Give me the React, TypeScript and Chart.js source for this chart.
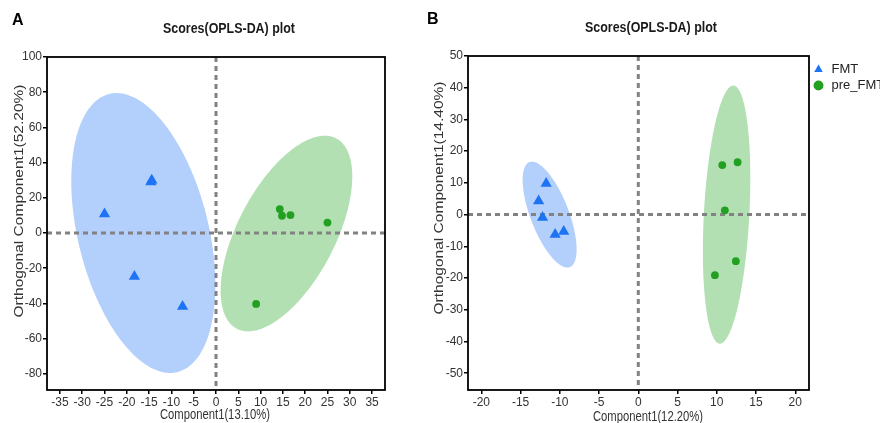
import React, { useEffect, useRef } from 'react';
import { Chart, registerables } from 'chart.js';

Chart.register(...registerables);

const FONT = '"Liberation Sans", Arial, sans-serif';

const groupNames = ['FMT', 'pre_FMT'];

// ---------- Panel A ----------
const aFmtX = [-25.0, -14.4, -14.6, -18.3, -7.5];
const aFmtY = [10.8, 30.0, 29.0, -24.7, -41.7];
const aPreX = [14.3, 14.8, 16.7, 25.0, 9.0];
const aPreY = [13.6, 9.8, 10.2, 5.9, -40.3];
// ellipse: centerX, centerY, axis1X, axis1Y, axis2X, axis2Y (data units)
const aFmtEllipse = [-16.3, 0, -6.0, 79.5, 15.0, 0];
const aPreEllipse = [15.8, -0.3, 8.6, 55.6, 12.0, 0];
const aXTicks = [-35, -30, -25, -20, -15, -10, -5, 0, 5, 10, 15, 20, 25, 30, 35];
const aYTicks = [-80, -60, -40, -20, 0, 20, 40, 60, 80, 100];
const aXRange = [-37.9, 37.9];
const aYRange = [-89.2, 100];

// ---------- Panel B ----------
const bFmtX = [-11.74, -12.7, -12.2, -10.6, -9.5];
const bFmtY = [9.8, 4.3, -0.9, -6.3, -5.3];
const bPreX = [10.7, 12.65, 11.03, 12.43, 9.76];
const bPreY = [15.6, 16.5, 1.35, -14.7, -19.1];
const bFmtEllipse = [-11.3, 0, -2.25, 16.7, 2.6, 0];
const bPreEllipse = [11.25, 0, 0.85, 40.7, 2.9, 0];
const bXTicks = [-20, -15, -10, -5, 0, 5, 10, 15, 20];
const bYTicks = [-50, -40, -30, -20, -10, 0, 10, 20, 30, 40, 50];
const bXRange = [-21.7, 21.75];
const bYRange = [-55.3, 50];

const COLORS = {
  fmtPoint: 'rgb(30,115,245)',
  prePoint: 'rgb(34,160,34)',
  fmtFill: 'rgb(179,207,251)',
  preFill: 'rgb(179,224,179)',
};

type Spec = {
  letter: string;
  title: string;
  xTitle: string;
  yTitle: string;
  fmtX: number[]; fmtY: number[]; preX: number[]; preY: number[];
  fmtEllipse: number[]; preEllipse: number[];
  xTicks: number[]; yTicks: number[]; xRange: number[]; yRange: number[];
  canvasLeft: number; canvasWidth: number;
  padTop: number; padRight: number; yWidth: number; xHeight: number;
  legend: boolean;
  letterPos: number[]; titlePos: number[]; titleW: number;
  xTitlePos: number[]; xTitleW: number; yTitlePos: number[]; yTitleW: number;
};

const specA: Spec = {
  letter: 'A', title: 'Scores(OPLS-DA) plot',
  xTitle: 'Component1(13.10%)', yTitle: 'Orthogonal Component1(52.20%)',
  fmtX: aFmtX, fmtY: aFmtY, preX: aPreX, preY: aPreY,
  fmtEllipse: aFmtEllipse, preEllipse: aPreEllipse,
  xTicks: aXTicks, yTicks: aYTicks, xRange: aXRange, yRange: aYRange,
  canvasLeft: 0, canvasWidth: 420,
  padTop: 57, padRight: 35, yWidth: 47, xHeight: 33,
  legend: false,
  letterPos: [12, 21], titlePos: [229, 29], titleW: 132,
  xTitlePos: [215, 415], xTitleW: 110, yTitlePos: [19, 201], yTitleW: 233,
};

const specB: Spec = {
  letter: 'B', title: 'Scores(OPLS-DA) plot',
  xTitle: 'Component1(12.20%)', yTitle: 'Orthogonal Component1(14.40%)',
  fmtX: bFmtX, fmtY: bFmtY, preX: bPreX, preY: bPreY,
  fmtEllipse: bFmtEllipse, preEllipse: bPreEllipse,
  xTicks: bXTicks, yTicks: bYTicks, xRange: bXRange, yRange: bYRange,
  canvasLeft: 420, canvasWidth: 460,
  padTop: 56, padRight: 0, yWidth: 48, xHeight: 33,
  legend: true,
  letterPos: [7, 20], titlePos: [231, 28], titleW: 132,
  xTitlePos: [228, 417], xTitleW: 110, yTitlePos: [19, 198], yTitleW: 233,
};

function makeDecor(spec: Spec) {
  return {
    id: 'decor' + spec.letter,
    beforeDatasetsDraw(chart: any) {
      const { ctx, chartArea: ca, scales } = chart;
      const xs = scales.x, ys = scales.y;
      ctx.save();
      ctx.beginPath();
      ctx.rect(ca.left, ca.top, ca.right - ca.left, ca.bottom - ca.top);
      ctx.clip();
      const drawEllipse = (e: number[], color: string) => {
        ctx.beginPath();
        const n = 240;
        for (let i = 0; i <= n; i++) {
          const t = (i / n) * Math.PI * 2;
          const dx = e[0] + e[2] * Math.cos(t) + e[4] * Math.sin(t);
          const dy = e[1] + e[3] * Math.cos(t) + e[5] * Math.sin(t);
          const px = xs.getPixelForValue(dx);
          const py = ys.getPixelForValue(dy);
          if (i === 0) ctx.moveTo(px, py); else ctx.lineTo(px, py);
        }
        ctx.closePath();
        ctx.fillStyle = color;
        ctx.fill();
      };
      drawEllipse(spec.fmtEllipse, COLORS.fmtFill);
      drawEllipse(spec.preEllipse, COLORS.preFill);
      const x0 = xs.getPixelForValue(0);
      const y0 = ys.getPixelForValue(0);
      ctx.setLineDash([5, 4]);
      ctx.lineWidth = 3;
      ctx.strokeStyle = 'rgb(130,130,130)';
      ctx.beginPath();
      ctx.moveTo(x0, ca.top);
      ctx.lineTo(x0, ca.bottom);
      ctx.moveTo(ca.left, y0);
      ctx.lineTo(ca.right, y0);
      ctx.stroke();
      ctx.restore();
    },
    afterDraw(chart: any) {
      const { ctx, chartArea: ca } = chart;
      ctx.save();
      ctx.strokeStyle = '#000';
      ctx.lineWidth = 1.8;
      ctx.strokeRect(ca.left, ca.top, ca.right - ca.left, ca.bottom - ca.top);
      const fitted = (text: string, font: string, cx: number, cy: number, w: number, rotate: boolean, squeeze: number, color: string) => {
        ctx.save();
        ctx.font = font;
        ctx.fillStyle = color;
        ctx.textAlign = 'center';
        ctx.textBaseline = 'middle';
        ctx.translate(cx, cy);
        if (rotate) ctx.rotate(-Math.PI / 2);
        const m = ctx.measureText(text).width;
        ctx.scale(w / m, squeeze);
        ctx.fillText(text, 0, 0);
        ctx.restore();
      };
      // panel letter
      ctx.font = 'bold 16px ' + FONT;
      ctx.fillStyle = '#000';
      ctx.textAlign = 'left';
      ctx.textBaseline = 'middle';
      ctx.fillText(spec.letter, spec.letterPos[0], spec.letterPos[1]);
      fitted(spec.title, 'bold 14px ' + FONT, spec.titlePos[0], spec.titlePos[1], spec.titleW, false, 1, '#1a1a1a');
      fitted(spec.xTitle, '15px ' + FONT, spec.xTitlePos[0], spec.xTitlePos[1], spec.xTitleW, false, 1, '#333');
      fitted(spec.yTitle, '15.5px ' + FONT, spec.yTitlePos[0], spec.yTitlePos[1], spec.yTitleW, true, 0.85, '#333');
      ctx.restore();
    },
  };
}

function ScorePanel({ spec }: { spec: Spec }) {
  const ref = useRef<HTMLCanvasElement | null>(null);
  useEffect(() => {
    if (!ref.current) return;
    const tickFont = { size: 12, family: FONT };
    const gridOpts = { drawOnChartArea: false, drawTicks: true, tickLength: 4, color: '#000', lineWidth: 1.5 };
    const chart = new Chart(ref.current, {
      type: 'scatter',
      data: {
        datasets: [
          {
            label: groupNames[0],
            data: spec.fmtX.map((x, i) => ({ x, y: spec.fmtY[i] })),
            pointStyle: 'triangle',
            pointRadius: 6.5,
            backgroundColor: COLORS.fmtPoint,
            borderColor: COLORS.fmtPoint,
            borderWidth: 0,
          },
          {
            label: groupNames[1],
            data: spec.preX.map((x, i) => ({ x, y: spec.preY[i] })),
            pointStyle: 'circle',
            pointRadius: 3.9,
            backgroundColor: COLORS.prePoint,
            borderColor: COLORS.prePoint,
            borderWidth: 0,
          },
        ],
      },
      options: {
        animation: false,
        responsive: false,
        devicePixelRatio: 1,
        layout: { padding: { top: spec.padTop, right: spec.padRight, left: 0, bottom: 0 } },
        scales: {
          x: {
            type: 'linear',
            min: spec.xRange[0],
            max: spec.xRange[1],
            afterBuildTicks: (s: any) => { s.ticks = spec.xTicks.map((v) => ({ value: v })); },
            afterFit: (s: any) => { s.height = spec.xHeight; },
            grid: gridOpts,
            border: { display: false },
            ticks: { padding: 1, color: '#333', font: tickFont, maxRotation: 0, autoSkip: false },
          },
          y: {
            type: 'linear',
            min: spec.yRange[0],
            max: spec.yRange[1],
            afterBuildTicks: (s: any) => { s.ticks = spec.yTicks.map((v) => ({ value: v })); },
            afterFit: (s: any) => { s.width = spec.yWidth; },
            grid: gridOpts,
            border: { display: false },
            ticks: { padding: 1, color: '#333', font: tickFont, autoSkip: false },
          },
        },
        plugins: {
          tooltip: { enabled: false },
          title: { display: false },
          legend: spec.legend
            ? {
                display: true,
                position: 'right',
                align: 'start',
                maxWidth: 71,
                title: { display: true, text: '', padding: 0, font: { size: 4, lineHeight: 1 } },
                labels: {
                  usePointStyle: true,
                  boxWidth: 13,
                  boxHeight: 7,
                  padding: 3,
                  color: '#222',
                  font: { size: 13, family: FONT },
                },
              }
            : { display: false },
        },
      } as any,
      plugins: [makeDecor(spec)],
    });
    return () => chart.destroy();
  }, [spec]);
  return (
    <canvas
      ref={ref}
      width={spec.canvasWidth}
      height={423}
      style={{ position: 'absolute', left: spec.canvasLeft, top: 0, width: spec.canvasWidth, height: 423 }}
    />
  );
}

export default function App() {
  return (
    <div style={{ position: 'fixed', left: 0, top: 0, width: 880, height: 423, background: '#fff', overflow: 'hidden' }}>
      <ScorePanel spec={specA} />
      <ScorePanel spec={specB} />
    </div>
  );
}
